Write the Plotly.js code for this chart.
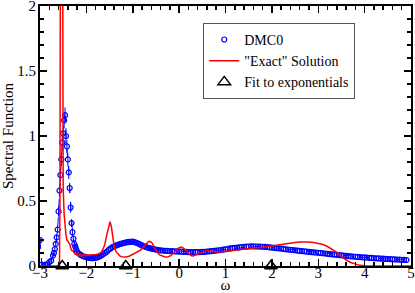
<!DOCTYPE html>
<html><head><meta charset="utf-8">
<script src="https://cdn.plot.ly/plotly-3.0.1.min.js"></script>
<style>body{margin:0;padding:0;background:#fff}#chart{width:415px;height:293px}</style>
</head><body><div id="chart"></div>
<script>
// DMC0 data (omega, spectral function, error)
const dmcX = [-3.00,-2.96,-2.92,-2.88,-2.84,-2.80,-2.76,-2.72,-2.70,-2.68,-2.66,-2.64,-2.62,-2.60,-2.58,-2.56,-2.54,-2.52,-2.50,-2.48,-2.46,-2.44,-2.42,-2.40,-2.38,-2.36,-2.34,-2.32,-2.30,-2.28,-2.26,-2.24,-2.22,-2.20,
-2.16,-2.12,-2.08,-2.04,-2.00,-1.96,-1.92,-1.88,-1.84,-1.80,-1.76,-1.72,-1.68,-1.64,-1.60,-1.56,-1.52,-1.48,-1.44,-1.40,-1.36,-1.32,-1.28,-1.24,-1.20,-1.16,-1.12,-1.08,-1.04,-1.00,-0.96,-0.92,-0.88,-0.84,-0.80,-0.76,-0.72,-0.68,-0.64,-0.60,-0.56,-0.52,-0.48,-0.44,
-0.40,-0.35,-0.30,-0.25,-0.20,-0.15,-0.10,-0.05,0.00,0.05,0.10,0.15,0.20,0.25,0.30,0.35,0.40,0.45,0.50,0.55,0.60,0.65,0.70,0.75,0.80,0.85,0.90,0.95,1.00,1.05,1.10,1.15,1.20,1.25,1.30,1.35,1.40,1.45,1.50,1.55,1.60,1.65,1.70,1.75,1.80,1.85,1.90,1.95,2.00,2.05,2.10,2.15,2.20,2.25,2.30,2.35,2.40,2.45,2.50,2.55,2.60,2.65,2.70,2.75,2.80,2.85,2.90,2.95,3.00,3.05,3.10,3.15,3.20,3.25,3.30,3.35,3.40,3.45,3.50,3.55,3.60,3.65,3.70,3.75,3.80,3.85,3.90,3.95,4.00,4.05,4.10,4.15,4.20,4.25,4.30,4.35,4.40,4.45,4.50,4.55,4.60,4.65,4.70,4.75,4.80,4.85,4.90];
const dmcY = [0.20,0.01,0.00,0.01,0.01,0.03,0.04,0.08,0.10,0.13,0.17,0.22,0.28,0.42,0.58,0.70,0.82,0.95,1.02,1.12,1.16,1.00,0.92,0.82,0.72,0.60,0.45,0.33,0.26,0.21,0.17,0.15,0.13,0.11,
0.095,0.085,0.077,0.071,0.067,0.064,0.062,0.060,0.061,0.063,0.067,0.072,0.080,0.090,0.100,0.110,0.124,0.135,0.145,0.152,0.158,0.163,0.168,0.172,0.176,0.180,0.183,0.186,0.185,0.188,0.184,0.178,0.172,0.165,0.158,0.152,0.147,0.142,0.138,0.134,0.131,0.128,0.125,0.122,
0.120,0.118,0.117,0.116,0.115,0.114,0.113,0.112,0.111,0.110,0.109,0.108,0.107,0.107,0.106,0.106,0.106,0.107,0.108,0.109,0.111,0.113,0.115,0.117,0.119,0.121,0.123,0.126,0.129,0.132,0.135,0.138,0.140,0.142,0.144,0.146,0.148,0.149,0.150,0.151,0.151,0.150,0.150,0.149,0.148,0.147,0.146,0.144,0.142,0.140,0.138,0.136,0.134,0.131,0.129,0.127,0.125,0.123,0.121,0.119,0.117,0.115,0.113,0.111,0.109,0.107,0.105,0.104,0.102,0.100,0.098,0.096,0.094,0.092,0.090,0.088,0.086,0.084,0.082,0.080,0.078,0.076,0.074,0.073,0.071,0.070,0.068,0.067,0.066,0.064,0.063,0.062,0.060,0.059,0.058,0.057,0.056,0.055,0.054,0.053,0.052,0.051,0.050,0.049,0.048,0.047,0.046,0.045,0.044];
const dmcErr = [0.02,0.01,0.01,0.01,0.01,0.01,0.01,0.02,0.02,0.02,0.02,0.03,0.03,0.04,0.05,0.05,0.05,0.06,0.06,0.06,0.06,0.06,0.05,0.05,0.05,0.04,0.04,0.03,0.03,0.02,0.02,0.02,0.02,0.015,
0.015,0.015,0.015,0.015,0.015,0.015,0.015,0.015,0.015,0.015,0.015,0.015,0.015,0.015,0.015,0.015,0.015,0.015,0.015,0.015,0.015,0.015,0.015,0.015,0.015,0.015,0.015,0.015,0.015,0.015,0.015,0.015,0.015,0.015,0.015,0.015,0.015,0.015,0.015,0.015,0.015,0.015,0.015,0.015,
0.015,0.015,0.015,0.015,0.015,0.015,0.015,0.015,0.015,0.015,0.015,0.015,0.015,0.015,0.015,0.015,0.015,0.015,0.015,0.015,0.015,0.015,0.015,0.015,0.015,0.015,0.015,0.015,0.015,0.015,0.015,0.015,0.015,0.015,0.015,0.015,0.015,0.015,0.015,0.015,0.015,0.015,0.015,0.015,0.015,0.015,0.015,0.015,0.015,0.015,0.015,0.015,0.015,0.015,0.015,0.015,0.015,0.015,0.015,0.015,0.015,0.015,0.015,0.015,0.015,0.015,0.015,0.015,0.015,0.015,0.015,0.015,0.015,0.015,0.015,0.015,0.015,0.015,0.015,0.015,0.015,0.015,0.015,0.015,0.015,0.015,0.015,0.015,0.015,0.015,0.015,0.015,0.015,0.015,0.015,0.015,0.015,0.015,0.015,0.015,0.015,0.015,0.015,0.015,0.015,0.015,0.015];

// "Exact" solution
const exactX = [-3.00,-2.60,-2.58,-2.57,-2.56,-2.54,-2.52,-2.51,-2.50,-2.48,-2.46,-2.44,-2.42,-2.40,-2.38,-2.36,-2.34,-2.32,-2.30,-2.28,-2.26,-2.24,-2.22,-2.20,-2.18,-2.16,-2.14,-2.12,-2.10,-2.08,-2.06,-2.04,-2.02,-2.00,-1.96,-1.92,-1.88,-1.84,-1.80,-1.76,-1.72,-1.68,-1.64,-1.60,-1.56,-1.52,-1.49,-1.46,-1.43,-1.40,-1.36,-1.32,-1.28,-1.24,-1.20,-1.14,-1.08,-1.02,-0.96,-0.90,-0.84,-0.78,-0.72,-0.67,-0.63,-0.59,-0.54,-0.48,-0.42,-0.36,-0.30,-0.24,-0.18,-0.12,-0.06,0.00,0.05,0.10,0.15,0.20,0.25,0.30,0.36,0.42,0.48,0.54,0.60,0.66,0.72,0.78,0.84,0.90,1.00,1.10,1.20,1.30,1.40,1.50,1.60,1.70,1.80,1.90,2.00,2.10,2.20,2.30,2.40,2.50,2.60,2.70,2.80,2.90,3.00,3.10,3.20,3.30,3.40,3.50,3.60,3.70,3.80,3.90,4.00,4.20,5.00];
const exactY = [0,0,0,0.5,3,6,4,1.5,0.6,0.40,0.30,0.24,0.20,0.19,0.18,0.17,0.14,0.12,0.12,0.11,0.10,0.09,0.095,0.085,0.09,0.08,0.088,0.078,0.086,0.08,0.09,0.082,0.088,0.08,0.085,0.082,0.086,0.085,0.088,0.09,0.095,0.105,0.13,0.17,0.24,0.31,0.34,0.30,0.22,0.15,0.11,0.09,0.078,0.072,0.07,0.07,0.075,0.085,0.095,0.105,0.12,0.14,0.165,0.185,0.19,0.18,0.15,0.11,0.085,0.075,0.07,0.072,0.08,0.10,0.125,0.14,0.145,0.135,0.115,0.095,0.08,0.077,0.085,0.095,0.105,0.115,0.12,0.118,0.112,0.108,0.107,0.108,0.112,0.117,0.122,0.127,0.131,0.135,0.138,0.141,0.144,0.148,0.153,0.160,0.166,0.172,0.177,0.181,0.184,0.186,0.185,0.181,0.175,0.165,0.150,0.130,0.105,0.075,0.046,0.027,0.013,0.005,0.001,0,0];

// Fit to exponentials
const fitX = [-2.52,-1.15,1.98];
const fitY = [0,0,0];

const serif = '"Liberation Serif"';

const traces = [
  {x: dmcX, y: dmcY, mode: 'lines', line: {color: 'blue', width: 1, dash: 'dash'}, showlegend: false, hoverinfo: 'skip'},
  {x: dmcX, y: dmcY, mode: 'markers', name: 'DMC0',
   marker: {symbol: 'circle-open', size: 5, color: 'blue', line: {width: 1.2, color: 'blue'}},
   error_y: {type: 'data', array: dmcErr, visible: true, color: 'blue', thickness: 1, width: 0}},
  {x: exactX, y: exactY, mode: 'lines', name: '"Exact" Solution', line: {color: 'red', width: 1.5}},
  {x: fitX, y: fitY, mode: 'markers', name: 'Fit to exponentials', cliponaxis: false,
   marker: {symbol: 'triangle-up-open', size: 11, color: 'black', line: {width: 1.5, color: 'black'}}}
];

const axisCommon = {
  showline: true, linecolor: 'black', linewidth: 2, mirror: 'ticks',
  ticks: 'inside', ticklen: 7, tickwidth: 1.5, tickcolor: 'black',
  showgrid: false, zeroline: false, ticklabeloverflow: 'allow',
  tickfont: {family: serif, size: 15, color: 'black'}
};

const layout = {
  width: 415, height: 293,
  margin: {l: 40, r: 4, t: 6, b: 27},
  paper_bgcolor: 'white', plot_bgcolor: 'white',
  font: {family: serif, color: 'black'},
  xaxis: Object.assign({}, axisCommon, {
    range: [-3, 5], dtick: 1, tick0: 0, automargin: false, ticklabelstandoff: -8,
    minor: {dtick: 0.2, ticks: 'inside', ticklen: 4, tickwidth: 1.5, tickcolor: 'black'},
    title: {text: 'ω', font: {family: serif, size: 15}, standoff: 3}
  }),
  yaxis: Object.assign({}, axisCommon, {
    range: [0, 2], dtick: 0.5, tick0: 0, automargin: false, ticklabelstandoff: -1,
    minor: {dtick: 0.1, ticks: 'inside', ticklen: 4, tickwidth: 1.5, tickcolor: 'black'},
    title: {text: 'Spectral Function', font: {family: serif, size: 15}, standoff: 4}
  }),
  legend: {x: 0.44, y: 0.935, xanchor: 'left', yanchor: 'top',
    bgcolor: 'white', bordercolor: '#555', borderwidth: 1,
    font: {family: serif, size: 14, color: 'black'}, itemwidth: 30, tracegroupgap: 0},
  showlegend: true
};

Plotly.newPlot('chart', traces, layout, {staticPlot: true, displayModeBar: false});
</script></body></html>
